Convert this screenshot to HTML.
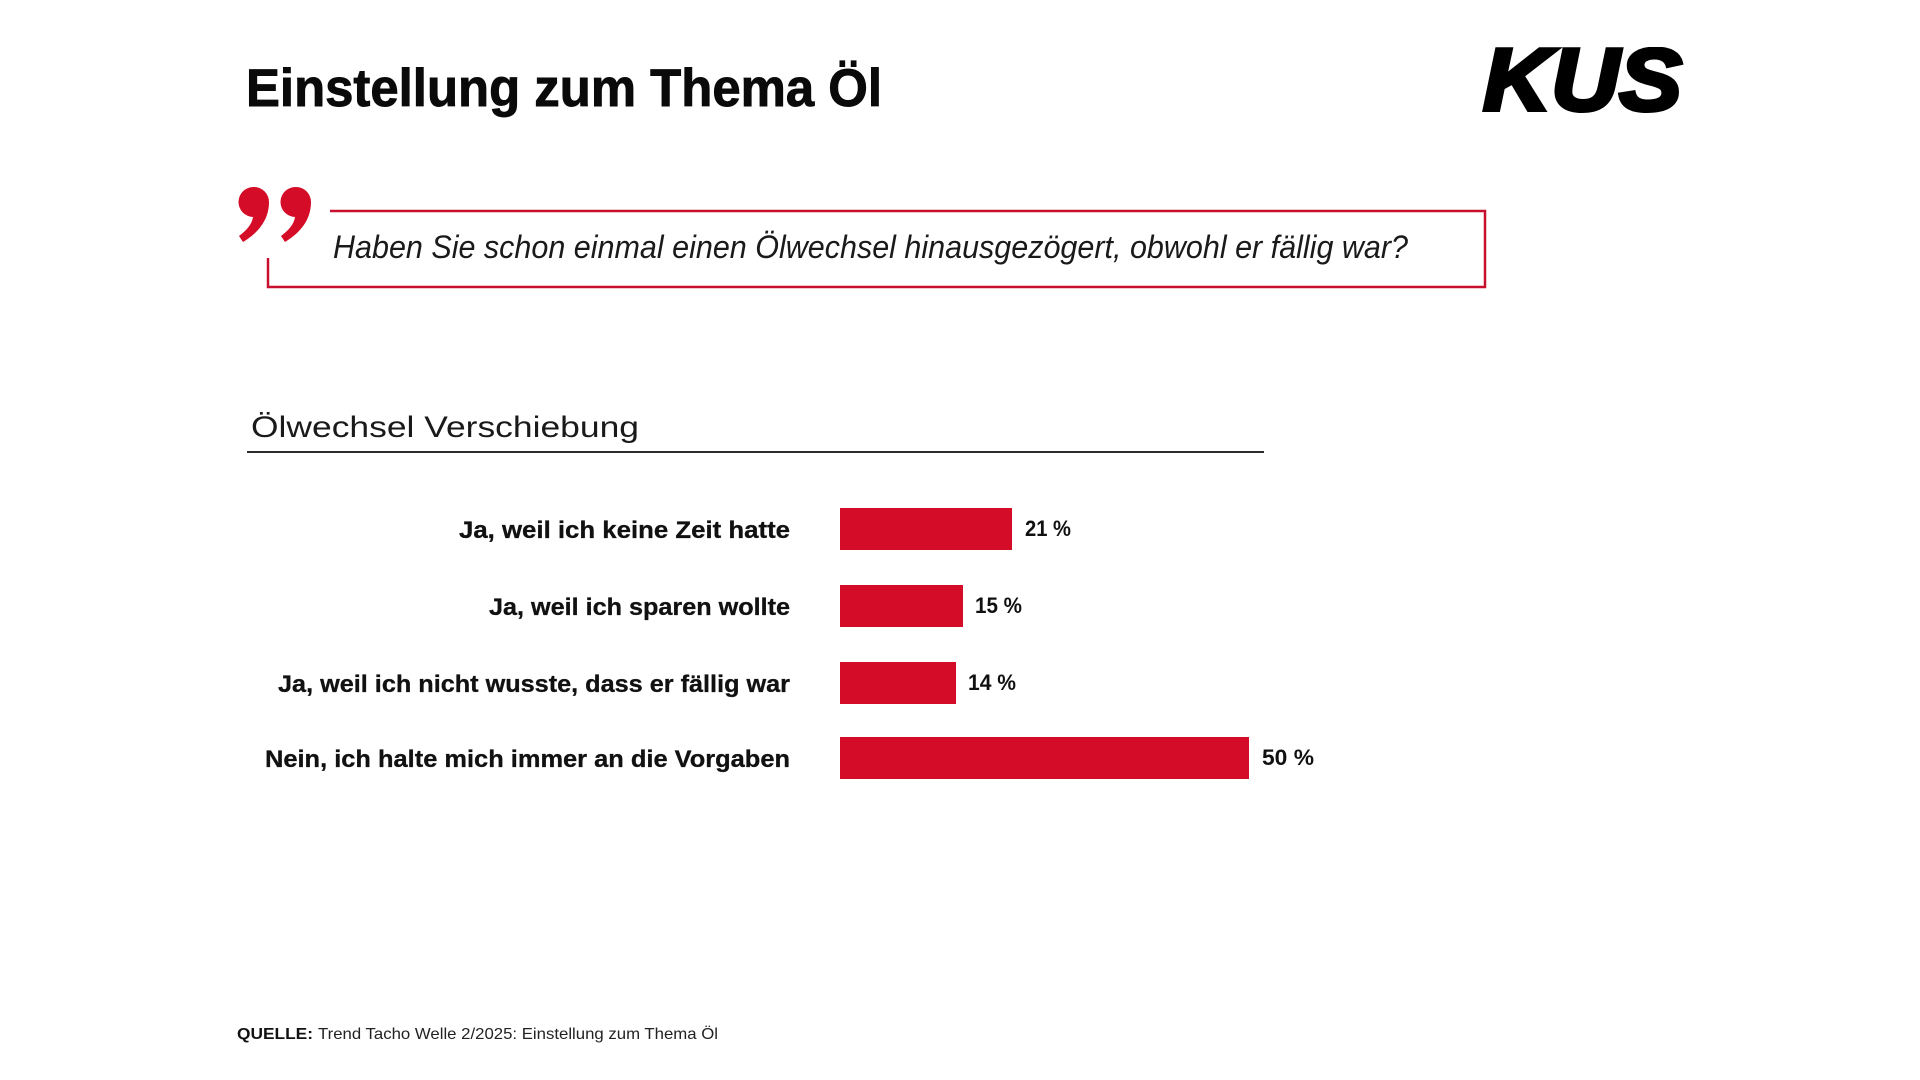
<!DOCTYPE html>
<html>
<head>
<meta charset="utf-8">
<style>
  html, body { margin: 0; padding: 0; background: #ffffff; }
  body { width: 1920px; height: 1080px; overflow: hidden; }
  svg { display: block; }
  text { font-family: "Liberation Sans", "DejaVu Sans", sans-serif; }
</style>
</head>
<body>
<svg width="1920" height="1080" viewBox="0 0 1920 1080" xmlns="http://www.w3.org/2000/svg">
  <rect x="0" y="0" width="1920" height="1080" fill="#ffffff"/>

  <!-- Title -->
  <text x="246" y="106" font-size="53" font-weight="bold" fill="#0a0a0a" stroke="#0a0a0a" stroke-width="0.9" textLength="636" lengthAdjust="spacingAndGlyphs">Einstellung zum Thema Öl</text>

  <!-- Logo -->
  <defs>
    <clipPath id="logoclip"><rect x="1470" y="47" width="230" height="66"/></clipPath>
  </defs>
  <g clip-path="url(#logoclip)">
    <text x="1483" y="110" font-size="88" font-weight="bold" font-style="italic" fill="#000" textLength="199" lengthAdjust="spacingAndGlyphs" stroke="#000" stroke-width="4">KÜS</text>
  </g>

  <!-- Quote marks -->
  <g fill="#d50c27">
    <path transform="translate(238,187)" d="M16 0 A15 15 0 0 1 31 15 C31 33 20 46 5 55 L1 49 C9 43 14 37 15 30 A15 15 0 0 1 16 0 Z"/>
    <path transform="translate(280,187)" d="M16 0 A15 15 0 0 1 31 15 C31 33 20 46 5 55 L1 49 C9 43 14 37 15 30 A15 15 0 0 1 16 0 Z"/>
  </g>

  <!-- Question box -->
  <g stroke="#c8102e" stroke-width="2.5" fill="none">
    <polyline points="330,211 1485,211 1485,287 268,287 268,258"/>
  </g>
  <text x="333" y="258" font-size="32" font-style="italic" fill="#1a1a1a" textLength="1075" lengthAdjust="spacingAndGlyphs">Haben Sie schon einmal einen Ölwechsel hinausgezögert, obwohl er fällig war?</text>

  <!-- Section title -->
  <text x="251" y="437" font-size="30" fill="#1a1a1a" textLength="388" lengthAdjust="spacingAndGlyphs">Ölwechsel Verschiebung</text>
  <line x1="247" y1="452" x2="1264" y2="452" stroke="#2b2b2b" stroke-width="2"/>

  <!-- Bars -->
  <g fill="#d50c27">
    <rect x="840" y="508" width="172" height="42"/>
    <rect x="840" y="585" width="123" height="42"/>
    <rect x="840" y="662" width="116" height="42"/>
    <rect x="840" y="737" width="409" height="42"/>
  </g>

  <!-- Category labels -->
  <g font-size="24" font-weight="bold" fill="#111" stroke="#111" stroke-width="0.3" text-anchor="end">
    <text x="790" y="538" textLength="331" lengthAdjust="spacingAndGlyphs">Ja, weil ich keine Zeit hatte</text>
    <text x="790" y="615" textLength="301" lengthAdjust="spacingAndGlyphs">Ja, weil ich sparen wollte</text>
    <text x="790" y="692" textLength="512" lengthAdjust="spacingAndGlyphs">Ja, weil ich nicht wusste, dass er fällig war</text>
    <text x="790" y="767" textLength="525" lengthAdjust="spacingAndGlyphs">Nein, ich halte mich immer an die Vorgaben</text>
  </g>

  <!-- Value labels -->
  <g font-size="22" font-weight="bold" fill="#111">
    <text x="1025" y="536" textLength="46" lengthAdjust="spacingAndGlyphs">21 %</text>
    <text x="975" y="613" textLength="47" lengthAdjust="spacingAndGlyphs">15 %</text>
    <text x="968" y="690" textLength="48" lengthAdjust="spacingAndGlyphs">14 %</text>
    <text x="1262" y="765" textLength="52" lengthAdjust="spacingAndGlyphs">50 %</text>
  </g>

  <!-- Footer -->
  <text x="237" y="1039" font-size="16" font-weight="bold" fill="#111" textLength="76" lengthAdjust="spacingAndGlyphs">QUELLE:</text>
  <text x="318" y="1039" font-size="16" fill="#222" textLength="400" lengthAdjust="spacingAndGlyphs">Trend Tacho Welle 2/2025: Einstellung zum Thema Öl</text>
</svg>
</body>
</html>
